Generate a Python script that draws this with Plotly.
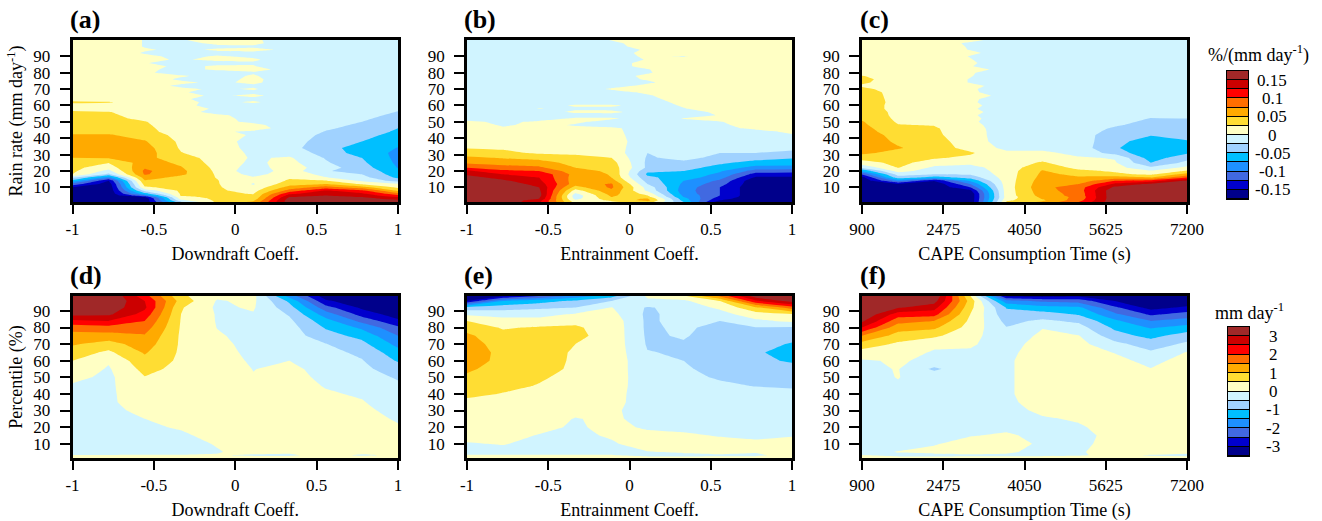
import plotly.graph_objects as go

# ---------- colours of the 14 bands, lowest first ----------
band_colors = ["#00008B", "#0000CD", "#4169E1", "#1E90FF", "#00BFFF", "#A0D2FF", "#D0F4FF",
               "#FFFFC4", "#FFDD33", "#FFAA00", "#FF6E00", "#FF0000", "#CC0000", "#A02828"]

coef_x = [-1, -0.778, -0.556, -0.333, -0.111, 0.111, 0.333, 0.556, 0.778, 1]
cape_x = [900, 1600, 2300, 3000, 3700, 4400, 5100, 5800, 6500, 7200]

coef_ticks = [-1, -0.5, 0, 0.5, 1]
coef_labels = ["-1", "-0.5", "0", "0.5", "1"]
cape_ticks = [900, 2475, 4050, 5625, 7200]
cape_labels = ["900", "2475", "4050", "5625", "7200"]
y_ticks = [10, 20, 30, 40, 50, 60, 70, 80, 90]

# ---------- top row: sensitivity, %/(mm/day) x 1000, rows listed from y = 100 down ----------
rain_y = [100, 98, 96, 94, 92, 90, 88, 86, 84, 82, 80, 78, 76, 74, 72, 70, 68, 66, 64, 62, 60, 58, 56, 54, 52, 50,
          48, 46, 44, 42, 38, 34, 31, 28, 25, 22, 20, 18, 16, 14, 12, 10, 8, 6, 5, 4, 3, 2, 1]

panel_a = [
    [14, 12, -1, -1, 5, 4, -12, -12, -12, -12],
    [14, 12, -1, -6, 4, 5, -12, -12, -12, -12],
    [14, 12, -1, -8, -4, -3, -12, -12, -12, -12],
    [14, 12, 2, -4, 3, 6, -4, -12, -12, -12],
    [14, 12, -2, -6, -6, -6, -12, -12, -12, -12],
    [14, 12, 5, -6, 2, -4, -12, -12, -12, -12],
    [14, 12, 4, -2, 4, 3, -12, -12, -12, -12],
    [14, 12, 1, -8, -6, -2, -12, -12, -12, -12],
    [14, 12, 6, -4, 2, 1, -12, -12, -12, -12],
    [14, 12, 4, -6, 3, 6, -6, -12, -12, -12],
    [14, 12, 3, -8, -8, -2, -12, -12, -12, -12],
    [14, 12, 8, 2, -7, 2, -12, -12, -12, -12],
    [14, 12, 9, -3, -7, 4, -10, -12, -12, -12],
    [14, 12, 9, 4, -4, 4, -12, -12, -12, -12],
    [14, 12, 8, -4, -8, -3, -12, -12, -12, -12],
    [14, 12, 10, 4, -3, 2, -12, -12, -12, -12],
    [14, 12, 10, 2, -8, -4, -12, -12, -12, -12],
    [14, 12, 12, 5, -3, 4, -10, -12, -12, -12],
    [14, 12, 12, 3, -8, -5, -12, -12, -12, -12],
    [30, 27, 12, 6, -6, 3, -12, -12, -12, -14],
    [16, 14, 13, 6, -8, -8, -12, -12, -12, -18],
    [14, 14, 13, 7, -2, -8, -12, -12, -12, -22],
    [30, 26, 14, 8, -7, -8, -12, -12, -14, -26],
    [32, 30, 14, 10, 3, -6, -12, -12, -18, -30],
    [34, 31, 20, 10, 5, -5, -12, -13, -21, -35],
    [35, 32, 26, 12, 6, -4, -12, -15, -25, -40],
    [36, 34, 28, 12, 4, 5, -10, -18, -29, -45],
    [37, 35, 30, 13, 6, 8, -8, -22, -32, -50],
    [40, 40, 32, 14, 3, -3, -12, -26, -36, -54],
    [52, 52, 40, 16, 8, -2, -12, -30, -42, -58],
    [60, 60, 52, 20, 6, -5, -14, -36, -50, -68],
    [62, 60, 60, 22, 10, -6, -16, -42, -60, -76],
    [58, 58, 62, 26, 12, -4, -10, -34, -62, -80],
    [50, 52, 58, 34, 16, -3, 3, -27, -50, -82],
    [38, 26, 62, 45, 14, -5, 8, -22, -45, -80],
    [32, 10, 72, 52, 18, -12, 14, -15, -38, -76],
    [30, -8, 80, 56, 20, -18, 14, -24, -30, -70],
    [25, -30, 78, 55, 22, -10, 16, -8, -25, -63],
    [-20, -90, 62, 42, 24, 3, 22, 1, -16, -55],
    [-60, -150, 48, 36, 26, 4, 28, 26, -4, -35],
    [-110, -165, 35, 34, 27, -2, 40, 50, 22, 2],
    [-150, -170, 22, 33, 28, 6, 60, 85, 60, 20],
    [-170, -170, -15, 30, 29, 15, 85, 127, 105, 45],
    [-170, -170, -60, 28, 29, 24, 120, 140, 130, 85],
    [-170, -170, -100, 28, 30, 27, 135, 150, 140, 105],
    [-170, -170, -150, 20, 30, 30, 150, 160, 150, 125],
    [-170, -170, -170, 10, 30, 35, 160, 165, 160, 140],
    [-170, -170, -170, -5, 30, 45, 165, 170, 170, 155],
    [-170, -170, -170, -30, 30, 55, 165, 170, 170, 170],
]

panel_b = [
    [-12, -12, -12, -12, 1, 10, 12, 12, 12, 12],
    [-12, -12, -12, -12, -6, 12, 12, 12, 12, 12],
    [-12, -12, -12, -12, -8, 10, 12, 12, 12, 12],
    [-12, -12, -12, -12, -8, 2, 12, 12, 12, 12],
    [-12, -12, -12, -12, -8, 5, 12, 12, 12, 12],
    [-12, -12, -12, -12, -8, 3, -2, 12, 12, 12],
    [-12, -12, -12, -12, -8, 1, 12, 12, 12, 12],
    [-12, -12, -12, -12, -8, 6, 12, 12, 12, 12],
    [-12, -12, -12, -12, -8, 6, 12, 12, 12, 12],
    [-12, -12, -12, -12, -8, -1, 12, 12, 12, 12],
    [-12, -12, -12, -12, -8, -2, 12, 12, 12, 12],
    [-12, -12, -12, -12, -8, 4, 12, 12, 12, 12],
    [-12, -12, -12, -12, -8, 2, 12, 12, 12, 12],
    [-12, -12, -12, -12, -10, -3, 10, 12, 12, 12],
    [-12, -12, -12, -12, -8, 5, 12, 12, 12, 12],
    [-12, -12, -12, -12, 3, 10, 12, 12, 12, 12],
    [-12, -12, -12, -12, -8, 4, 12, 12, 12, 12],
    [-12, -12, -12, -12, -10, -2, 10, 12, 12, 12],
    [-12, -12, -12, -12, -12, -5, 8, 12, 12, 12],
    [-12, -12, -12, -12, -12, -8, 5, 12, 12, 12],
    [-12, -12, -12, 3, 4, -10, 2, 12, 12, 12],
    [-12, -12, 1, -4, -6, -10, -1, 8, 12, 12],
    [-12, -12, -10, 4, 5, -10, -6, 3, 12, 12],
    [-12, -12, -10, -8, -8, -10, -8, 1, 12, 12],
    [-12, -12, -10, 3, 3, -10, 1, 8, 12, 12],
    [5, -5, 4, 4, -8, -10, -6, -1, 10, 12],
    [13, -3, 6, -2, -9, -10, -8, -5, 12, 12],
    [13, 3, 8, 5, 4, -10, -12, -8, 6, 12],
    [14, 8, 10, 8, 5, -10, -12, -12, -8, 5],
    [15, 13, 12, 13, 6, -10, -12, -12, -8, -2],
    [18, 16, 14, 15, 8, -10, -11, -12, -11, -8],
    [24, 22, 18, 18, 12, -18, -12, -14, -15, -20],
    [35, 30, 22, 22, 15, -25, -14, -25, -25, -30],
    [55, 48, 42, 30, 25, -28, -18, -32, -40, -48],
    [70, 65, 60, 42, 35, -30, -30, -45, -60, -62],
    [100, 85, 80, 50, 40, -30, -40, -60, -85, -85],
    [130, 105, 100, 60, 45, -45, -50, -72, -110, -115],
    [145, 125, 120, 66, 48, -55, -60, -80, -135, -135],
    [160, 140, 125, 63, 50, -45, -62, -90, -155, -155],
    [170, 155, 130, 62, 62, -35, -75, -105, -170, -170],
    [170, 170, 138, 62, 78, -25, -80, -115, -170, -170],
    [170, 170, 150, 40, 80, -10, -85, -125, -170, -170],
    [170, 170, 155, 14, 70, -5, -88, -125, -170, -170],
    [170, 170, 160, -5, 60, 15, -85, -125, -170, -170],
    [170, 170, 160, -14, 55, 25, -80, -125, -170, -170],
    [170, 170, 155, -14, 50, 35, -75, -130, -170, -170],
    [170, 170, 150, -8, 42, 52, -65, -140, -170, -170],
    [170, 170, 135, 5, 30, 60, -60, -150, -170, -170],
    [170, 170, 130, 15, 20, 40, -50, -170, -170, -170],
]

panel_c = [
    [14, 14, 12, 7, -12, -12, -12, -12, -12, -12],
    [14, 14, 12, -4, -12, -12, -12, -12, -12, -12],
    [14, 14, 12, -2, -12, -12, -12, -12, -12, -12],
    [14, 14, 12, -1, -12, -12, -12, -12, -12, -12],
    [14, 14, 12, 5, -12, -12, -12, -12, -12, -12],
    [14, 14, 12, -1, -12, -12, -12, -12, -12, -12],
    [14, 14, 12, 1, -12, -12, -12, -12, -12, -12],
    [14, 14, 12, 3, -12, -12, -12, -12, -12, -12],
    [14, 14, 12, 1, -12, -12, -12, -12, -12, -12],
    [14, 14, 12, 14, -12, -12, -12, -12, -12, -12],
    [14, 14, 12, 2, -12, -12, -12, -12, -12, -12],
    [26, 14, 12, 1, -12, -12, -12, -12, -12, -12],
    [30, 15, 12, -1, -12, -12, -12, -12, -12, -12],
    [28, 15, 12, -1, -12, -12, -12, -12, -12, -12],
    [22, 15, 12, 8, -12, -12, -12, -12, -12, -12],
    [30, 15, 12, 3, -12, -12, -12, -12, -12, -12],
    [36, 16, 12, 4, -12, -12, -12, -12, -12, -12],
    [38, 16, 12, 16, -12, -12, -12, -12, -12, -12],
    [40, 16, 12, 4, -12, -12, -12, -12, -12, -12],
    [40, 17, 12, 3, -12, -12, -12, -12, -12, -12],
    [38, 17, 12, 6, -12, -12, -12, -12, -12, -12],
    [38, 17, 12, 3, -12, -12, -12, -12, -12, -13],
    [42, 18, 12, 7, -12, -12, -12, -12, -14, -16],
    [42, 19, 14, 3, -12, -12, -12, -12, -20, -20],
    [46, 20, 14, 5, -11, -12, -12, -14, -26, -25],
    [52, 22, 15, 3, -10, -12, -12, -18, -30, -30],
    [55, 26, 24, 6, -11, -12, -12, -22, -34, -33],
    [60, 27, 28, 8, -11, -12, -12, -28, -40, -36],
    [62, 34, 29, 9, -11, -12, -12, -33, -44, -39],
    [65, 40, 30, 10, -12, -12, -12, -40, -48, -42],
    [65, 46, 35, 12, -12, -2, -12, -42, -62, -52],
    [62, 52, 38, 16, -6, -8, -12, -46, -74, -60],
    [55, 42, 34, 28, 5, 6, -8, -34, -72, -53],
    [35, 35, 28, 20, 5, 16, 3, -2, -62, -34],
    [15, 32, 14, 6, 12, 28, 8, 3, -50, -18],
    [-20, 26, -6, -8, 12, 42, 18, 10, -20, 8],
    [-70, 10, -14, -14, 12, 52, 30, 22, 2, 28],
    [-120, -15, -25, -22, 12, 55, 45, 30, 20, 60],
    [-160, -35, -60, -40, 12, 58, 52, 60, 50, 100],
    [-170, -90, -148, -70, 12, 62, 60, 100, 110, 155],
    [-170, -150, -170, -100, 12, 65, 75, 130, 155, 170],
    [-170, -170, -170, -125, 12, 68, 88, 155, 170, 170],
    [-170, -170, -170, -155, 12, 65, 88, 170, 170, 170],
    [-170, -170, -170, -170, 12, 62, 85, 170, 170, 170],
    [-170, -170, -170, -170, 12, 60, 85, 170, 170, 170],
    [-170, -170, -170, -170, 10, 56, 82, 170, 170, 170],
    [-170, -170, -170, -170, 14, 52, 85, 170, 170, 170],
    [-170, -170, -170, -170, 20, 45, 90, 170, 170, 170],
    [-170, -170, -170, -170, 28, 55, 100, 170, 170, 170],
]

# ---------- bottom row: mm/day, one list per x column, from percentile 99 down ----------
pct_y = [99, 96, 92, 88, 84, 80, 75, 70, 65, 60, 55, 50, 45, 40, 35, 30, 25, 20, 15, 10, 5, 3, 2, 1]

panel_d = [
    [3.4, 3.4, 3.3, 3.15, 2.4, 1.7, 1.3, 1.05, .75, .5, .33, .12, -.05, -.1, -.1, -.1, -.15, -.15, -.2, -.2, -.2, .02, .05, .2],
    [3.5, 3.5, 3.3, 3.1, 2.5, 1.8, 1.3, .8, .4, .05, -.05, -.1, -.1, -.1, -.1, -.15, -.15, -.15, -.2, -.2, -.2, .02, .05, .2],
    [2.2, 2.5, 2.6, 2.3, 2.0, 1.75, 1.45, 1.25, 1.05, .85, .65, .48, .42, .35, .3, .15, 0, -.05, -.1, -.12, -.12, .02, .05, .2],
    [.6, .8, .55, .5, .47, .45, .43, .43, .42, .4, .35, .3, .28, .25, .2, .18, .12, .03, -.05, -.1, -.1, .02, .05, .2],
    [.1, -.04, -.08, -.04, -.03, -.01, .05, .1, .15, .2, .25, .25, .25, .25, .2, .2, .2, .15, .1, .02, -.02, .02, .1, .2],
    [.15, .1, .05, -.03, -.1, -.15, -.15, -.12, -.1, -.06, -.01, .02, .15, .2, .25, .25, .25, .25, .25, .2, .1, -.05, .1, .2],
    [-1.7, -1.1, -.8, -.55, -.4, -.3, -.25, -.2, -.1, 0, .1, .15, .2, .25, .25, .25, .25, .25, .2, .15, .05, -.05, .1, .2],
    [-3.3, -2.9, -2.3, -1.75, -1.3, -1.05, -.8, -.48, -.35, -.25, -.15, -.1, -.03, .05, .12, .2, .25, .25, .25, .25, .15, .1, .1, .2],
    [-3.5, -3.4, -3.1, -2.7, -2.15, -1.6, -1.15, -.85, -.6, -.47, -.38, -.28, -.15, -.05, .03, .12, .2, .25, .3, .3, .1, -.05, .1, .2],
    [-3.6, -3.6, -3.4, -3.25, -2.9, -2.4, -2.0, -1.65, -1.3, -1.05, -.75, -.55, -.42, -.33, -.25, -.17, -.06, .05, .12, .2, .15, .05, .1, .2],
]

panel_e = [
    [-3.5, -3.0, -.75, -.1, .5, .8, 1.1, 1.25, 1.3, 1.25, 1.1, .9, .8, .6, .4, .3, .25, .2, .1, -.02, -.1, .02, .05, .2],
    [-3.1, -1.5, -.7, -.2, .2, .45, .65, .75, .85, .85, .75, .7, .6, .48, .35, .3, .25, .2, .12, .02, -.1, .02, .05, .2],
    [-2.5, -1.2, -.6, -.15, .15, .55, .65, .75, .8, .8, .7, .55, .48, .4, .3, .25, .2, .1, -.02, -.1, -.1, .02, .05, .2],
    [-1.8, -.9, -.5, .05, .4, .55, .6, .5, .42, .4, .4, .38, .35, .3, .25, .1, -.02, -.05, -.1, -.1, -.1, .02, .05, .2],
    [-1.2, -.5, .02, .15, .3, .33, .33, .33, .33, .33, .33, .33, .3, .25, .2, .1, .08, .1, .05, -.05, -.1, .02, .05, .2],
    [.1, -.1, -.55, -.6, -.6, -.6, -.58, -.55, -.48, -.4, -.4, -.38, -.36, -.35, -.3, -.25, -.15, -.05, .1, .2, -.02, -.1, .05, .2],
    [.4, -.1, -.3, -.3, -.3, -.38, -.45, -.55, -.55, -.5, -.42, -.38, -.3, -.25, -.22, -.2, -.15, -.08, .05, .15, .05, -.1, .05, .2],
    [1.6, .5, .1, -.2, -.5, -.7, -.75, -.8, -.8, -.8, -.7, -.55, -.42, -.3, -.25, -.2, -.15, -.1, -.02, .1, .1, -.05, .05, .2],
    [3.3, 2.4, .9, .3, -.1, -.52, -.7, -.8, -.9, -.9, -.8, -.65, -.52, -.35, -.3, -.25, -.2, -.15, -.1, .1, .02, -.05, .05, .2],
    [3.8, 3.2, 1.75, .45, .1, -.55, -.8, -1.05, -1.3, -1.05, -.85, -.7, -.55, -.4, -.3, -.2, -.15, -.1, -.02, .1, .15, .1, .1, .2],
]

panel_f = [
    [4, 4, 3.8, 3.5, 3.1, 2.5, 1.5, .8, .3, -.05, -.1, -.1, -.1, -.1, -.1, -.1, -.1, -.1, -.15, -.15, -.15, .02, .05, .2],
    [3.8, 3.5, 3.05, 2.25, 1.7, 1.2, .8, .4, .2, .05, .02, .01, -.03, -.1, -.1, -.1, -.1, -.1, -.15, -.15, .02, -.1, .05, .2],
    [3.5, 3.2, 2.7, 2.2, 1.5, 1.1, .6, .1, -.05, -.1, -.6, -.15, -.15, -.15, -.15, -.15, -.15, -.1, -.1, -.03, .1, -.1, .05, .2],
    [.5, .8, .65, .5, .4, .3, .15, .05, -.05, -.1, -.1, -.1, -.1, -.1, -.1, -.1, -.1, -.1, -.02, .15, .1, -.05, .05, .2],
    [-3.1, -1.8, -1.03, -.85, -.65, -.48, -.3, -.2, -.15, -.1, -.1, -.1, -.1, -.1, -.1, -.1, -.1, -.08, .05, .25, .05, -.05, .05, .2],
    [-3.2, -2.1, -1.3, -.8, -.4, -.02, .1, .2, .3, .35, .35, .35, .35, .35, .2, .06, -.03, -.1, -.1, -.1, -.1, -.05, .05, .2],
    [-3.1, -2.2, -1.4, -1.05, -.6, -.3, .02, .15, .25, .3, .3, .3, .3, .3, .2, .1, .03, -.03, -.1, -.1, -.05, -.02, .05, .2],
    [-3.5, -3, -2.4, -1.9, -1.4, -1.1, -.8, -.35, -.02, .15, .2, .25, .25, .25, .25, .2, .15, .1, .1, .15, .2, .05, .1, .2],
    [-3.8, -3.6, -3.2, -2.6, -2.0, -1.55, -1.15, -.75, -.42, -.15, .02, .1, .15, .2, .2, .2, .2, .2, .2, .2, .1, -.02, .05, .2],
    [-3.8, -3.4, -2.9, -2.3, -1.8, -1.3, -.75, -.4, .03, .2, .25, .3, .3, .3, .3, .3, .3, .3, .3, .3, .05, -.05, .05, .2],
]

# ---------- colour key ----------
key_top_mid = [-162.5, -137.5, -112.5, -87.5, -62.5, -37.5, -12.5, 12.5, 37.5, 62.5, 87.5, 112.5, 137.5, 162.5]
key_top_ticks = [150, 100, 50, 0, -50, -100, -150]
key_top_labels = ["0.15", "0.1", "0.05", "0", "-0.05", "-0.1", "-0.15"]
key_bot_mid = [-3.25, -2.75, -2.25, -1.75, -1.25, -0.75, -0.25, 0.25, 0.75, 1.25, 1.75, 2.25, 2.75, 3.25]
key_bot_ticks = [3, 2, 1, 0, -1, -2, -3]
key_bot_labels = ["3", "2", "1", "0", "-1", "-2", "-3"]

W, H = 1322, 521
FONT = "Liberation Serif"
TICK_SIZE = 17
TITLE_SIZE = 18


def step_scale():
    n = len(band_colors)
    out = []
    for i, c in enumerate(band_colors):
        out.append([i / n, c])
        out.append([(i + 1) / n, c])
    return out


def dom(a, b, total):
    return [a / total, b / total]


fig = go.Figure()
col_px = [(72.5, 398), (467, 792), (862, 1187)]
row_px = [(40, 202), (296, 458)]

panels = [
    ("(a)", panel_a, coef_x, rain_y, 0, 0, "Downdraft Coeff."),
    ("(b)", panel_b, coef_x, rain_y, 1, 0, "Entrainment Coeff."),
    ("(c)", panel_c, cape_x, rain_y, 2, 0, "CAPE Consumption Time (s)"),
    ("(d)", panel_d, coef_x, pct_y, 0, 1, "Downdraft Coeff."),
    ("(e)", panel_e, coef_x, pct_y, 1, 1, "Entrainment Coeff."),
    ("(f)", panel_f, cape_x, pct_y, 2, 1, "CAPE Consumption Time (s)"),
]

layout_axes = {}
annotations = []
for idx, (tag, z, xs, ys, c, r, xtitle) in enumerate(panels, start=1):
    xa = "x" if idx == 1 else f"x{idx}"
    ya = "y" if idx == 1 else f"y{idx}"
    if r == 0:
        zz = [row for row in z[::-1]]
        yy = ys[::-1]
        start, end, size, zmin, zmax = -150, 150, 25, -175, 175
    else:
        rows = [[col[i] for col in z] for i in range(len(ys))]
        zz = rows[::-1]
        yy = ys[::-1]
        start, end, size, zmin, zmax = -3, 3, 0.5, -3.5, 3.5
    fig.add_trace(go.Contour(
        x=xs, y=yy, z=zz, xaxis=xa, yaxis=ya, showscale=False, hoverinfo="skip",
        autocontour=False, zmin=zmin, zmax=zmax, colorscale=step_scale(),
        contours=dict(coloring="fill", start=start, end=end, size=size, showlines=False),
        line=dict(width=0, smoothing=0),
    ))
    is_cape = c == 2
    x0, x1 = col_px[c]
    y0, y1 = row_px[r]
    xkey = "xaxis" if idx == 1 else f"xaxis{idx}"
    ykey = "yaxis" if idx == 1 else f"yaxis{idx}"
    layout_axes[xkey] = dict(
        domain=dom(x0, x1, W), anchor=ya, range=[xs[0], xs[-1]],
        tickmode="array",
        tickvals=cape_ticks if is_cape else coef_ticks,
        ticktext=cape_labels if is_cape else coef_labels,
        ticks="outside", ticklen=9, tickwidth=2.2, tickcolor="black",
        showline=True, mirror=True, linewidth=2.6, linecolor="black", showgrid=False, zeroline=False,
        tickfont=dict(family=FONT, size=TICK_SIZE, color="black"),
        ticklabelstandoff=1,
        title=dict(text=xtitle, font=dict(family=FONT, size=TITLE_SIZE, color="black"), standoff=10),
        automargin=False,
    )
    layout_axes[ykey] = dict(
        domain=[1 - y1 / H, 1 - y0 / H], anchor=xa,
        range=[1, 100] if r == 0 else [1.4, 99],
        tickmode="array", tickvals=y_ticks, ticktext=[str(v) for v in y_ticks],
        ticks="outside", ticklen=10, tickwidth=2.2, tickcolor="black",
        showline=True, mirror=True, linewidth=2.6, linecolor="black", showgrid=False, zeroline=False,
        tickfont=dict(family=FONT, size=TICK_SIZE, color="black"),
        ticklabelstandoff=6,
        automargin=False,
    )
    annotations.append(dict(
        text=f"<b>{tag}</b>", xref="paper", yref="paper", x=(x0 - 4.5) / W,
        y=1 - (y0 - 21) / H, showarrow=False, xanchor="left", yanchor="middle",
        font=dict(family=FONT, size=26, color="black"),
    ))

# y-axis titles on the leftmost panels
layout_axes["yaxis"]["title"] = dict(text="Rain rate (mm day<sup>-1</sup>)", font=dict(family=FONT, size=TITLE_SIZE, color="black"), standoff=6)
layout_axes["yaxis4"]["title"] = dict(text="Percentile (%)", font=dict(family=FONT, size=TITLE_SIZE, color="black"), standoff=6)

# ---------- colour keys: a one-column heatmap on its own axes ----------
key_specs = [
    (7, key_top_mid, key_top_ticks, key_top_labels, (1227, 1248), (71, 199), [-175, 175]),
    (8, key_bot_mid, key_bot_ticks, key_bot_labels, (1228, 1249), (327, 456), [-3.5, 3.5]),
]
for n, mids, ticks, labels, xpx, ypx, rng in key_specs:
    fig.add_trace(go.Heatmap(
        x=[0], y=mids, z=[[m] for m in mids], xaxis=f"x{n}", yaxis=f"y{n}",
        zmin=rng[0], zmax=rng[1], colorscale=step_scale(), showscale=False, hoverinfo="skip", ygap=1,
    ))
    layout_axes[f"xaxis{n}"] = dict(domain=dom(*xpx, W), anchor=f"y{n}", showticklabels=False, ticks="",
                                    showgrid=False, zeroline=False, showline=True, mirror=True,
                                    linewidth=1, linecolor="black")
    layout_axes[f"yaxis{n}"] = dict(domain=[1 - ypx[1] / H, 1 - ypx[0] / H], anchor=f"x{n}", range=rng,
                                    showticklabels=False, ticks="", showgrid=False, zeroline=False,
                                    showline=True, mirror=True, linewidth=1, linecolor="black")
    for t, lab in zip(ticks, labels):
        annotations.append(dict(
            text=lab, xref="paper", yref=f"y{n}", x=(xpx[1] + 24) / W, y=t, showarrow=False,
            xanchor="center", yanchor="middle",
            font=dict(family=FONT, size=TICK_SIZE, color="black"),
        ))

annotations.append(dict(text="%/(mm day<sup>-1</sup>)", xref="paper", yref="paper", x=1258 / W, y=1 - 54 / H,
                        showarrow=False, xanchor="center", yanchor="middle",
                        font=dict(family=FONT, size=TITLE_SIZE, color="black")))
annotations.append(dict(text="mm day<sup>-1</sup>", xref="paper", yref="paper", x=1249 / W, y=1 - 311 / H,
                        showarrow=False, xanchor="center", yanchor="middle",
                        font=dict(family=FONT, size=TITLE_SIZE, color="black")))

fig.update_layout(
    width=W, height=H, autosize=False, margin=dict(l=0, r=0, t=0, b=0),
    paper_bgcolor="white", plot_bgcolor="black", showlegend=False,
    annotations=annotations, **layout_axes,
)
fig.write_html("out.html", config={"displayModeBar": False}, post_script="document.body.style.margin='0';")
